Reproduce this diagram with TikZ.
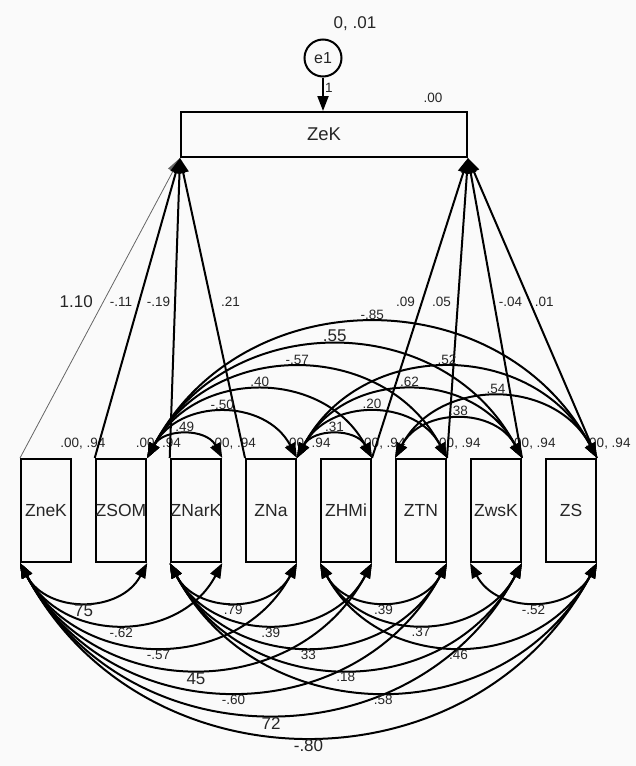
\documentclass[tikz,border=0pt]{standalone}
\usepackage{fontspec}
\setmainfont{Liberation Sans}
\usetikzlibrary{positioning,arrows.meta}

\begin{document}
\begin{tikzpicture}[x=1pt,y=-1pt,>={Triangle[length=15pt,width=11pt]},
                    line width=2pt,node distance=75pt,text=black!85]
  \tikzstyle{every node}=[inner sep=1pt]
  \tikzstyle{var}=[draw,minimum width=50pt,minimum height=103pt,inner sep=0pt,
                   font=\fontsize{17.5}{17.5}\selectfont]
  \tikzstyle{est}=[font=\fontsize{13.5}{13.5}\selectfont]
  \tikzstyle{big}=[font=\fontsize{17}{17}\selectfont]
  \tikzstyle{covup}=[<->,bend left=62,looseness=1.16]
  \tikzstyle{covdn}=[<->,bend right=62,looseness=1.16]
  \tikzstyle{lblup}=[est,above=2pt]
  \tikzstyle{lbldn}=[est,below=2pt]

  \path[use as bounding box,fill=black!2] (0,0) rectangle (636,766);

  \node[draw,minimum width=286pt,minimum height=45pt,
        font=\fontsize{18.5}{18.5}\selectfont]      (ZeK)  at (324,134.5) {ZeK};
  \node[draw,circle,minimum size=37pt,inner sep=0pt,
        font=\fontsize{16}{16}\selectfont]          (e1)   at (323,58)    {e1};

  \node[var] (ZneK)  at (46,510.5)     {ZneK};
  \node[var] (ZSOM)  [right of=ZneK]   {ZSOM};
  \node[var] (ZNarK) [right of=ZSOM]   {ZNarK};
  \node[var] (ZNa)   [right of=ZNarK]  {ZNa};
  \node[var] (ZHMi)  [right of=ZNa]    {ZHMi};
  \node[var] (ZTN)   [right of=ZHMi]   {ZTN};
  \node[var] (ZwsK)  [right of=ZTN]    {ZwsK};
  \node[var] (ZS)    [right of=ZwsK]   {ZS};

  % means and variances
  \node[big] at ([xshift=32pt,yshift=34pt]e1.center) {0, .01};
  \node[est] at ([xshift=-35pt,yshift=13pt]ZeK.north east) {.00};
  \foreach \v in {ZneK,ZSOM,ZNarK,ZNa,ZHMi,ZTN,ZwsK,ZS}
    \node[est] at ([xshift=11pt,yshift=14pt]\v.north east) {.00, .94};

  % regression weights
  \draw[->] (e1) -- node[est,right,pos=.3] {1} (ZeK.north -| e1);
  \draw[->,line width=.8pt,draw=black!60] (ZneK.north west) -- node[big,pos=.52,left=9pt] {1.10} (ZeK.south west);
  \draw[->] (ZSOM.north west)  -- node[est,pos=.52,left=5pt]  {-.11} (ZeK.south west);
  \draw[->] (ZNarK.north west) -- node[est,pos=.52,left=3pt]  {-.19} (ZeK.south west);
  \draw[->] (ZNa.north west)   -- node[est,pos=.52,right=8pt] {.21}  (ZeK.south west);
  \draw[->] (ZHMi.north east)  -- node[est,pos=.52,left=5pt]  {.09}  (ZeK.south east);
  \draw[->] (ZTN.north east)   -- node[est,pos=.52,left=5pt]  {.05}  (ZeK.south east);
  \draw[->] (ZwsK.north east)  -- node[est,pos=.52,right=3pt] {-.04} (ZeK.south east);
  \draw[->] (ZS.north east)    -- node[est,pos=.52,right=3pt] {.01}  (ZeK.south east);

  % covariances above
  \path (ZSOM.north east) edge[covup] node[lblup] {.49}  (ZNarK.north east)
                          edge[covup] node[lblup] {-.50} (ZNa.north east)
                          edge[covup] node[lblup] {.40}  (ZHMi.north east)
                          edge[covup] node[lblup] {-.57} (ZTN.north east)
                          edge[covup] node[lblup,big] {.55} (ZwsK.north east)
                          edge[covup] node[lblup] {-.85} (ZS.north east)
        (ZNa.north east)  edge[covup] node[lblup] {.31}  (ZHMi.north east)
                          edge[covup] node[lblup] {.20}  (ZTN.north east)
                          edge[covup] node[lblup] {.62}  (ZwsK.north east)
                          edge[covup] node[lblup] {.52}  (ZS.north east)
        (ZTN.north west)  edge[covup] node[lblup] {.38}  (ZwsK.north east)
                          edge[covup] node[lblup] {.54}  (ZS.north east);

  % covariances below
  \path (ZneK.south west)  edge[covdn] node[lbldn,big] {75}  (ZSOM.south east)
                           edge[covdn] node[lbldn] {-.62}    (ZNarK.south east)
                           edge[covdn] node[lbldn] {-.57}    (ZNa.south east)
                           edge[covdn] node[lbldn,big] {45}  (ZHMi.south east)
                           edge[covdn] node[lbldn] {-.60}    (ZTN.south east)
                           edge[covdn] node[lbldn,big] {72}  (ZwsK.south east)
                           edge[covdn] node[lbldn,big] {-.80} (ZS.south east)
        (ZNarK.south west) edge[covdn] node[lbldn] {.79}     (ZNa.south east)
                           edge[covdn] node[lbldn] {.39}     (ZHMi.south east)
                           edge[covdn] node[lbldn] {33}      (ZTN.south east)
                           edge[covdn] node[lbldn] {.18}     (ZwsK.south east)
                           edge[covdn] node[lbldn] {.58}     (ZS.south east)
        (ZHMi.south west)  edge[covdn] node[lbldn] {.39}     (ZTN.south east)
                           edge[covdn] node[lbldn] {.37}     (ZwsK.south east)
                           edge[covdn] node[lbldn] {.46}     (ZS.south east)
        (ZwsK.south west)  edge[covdn] node[lbldn] {-.52}    (ZS.south east);
\end{tikzpicture}
\end{document}
